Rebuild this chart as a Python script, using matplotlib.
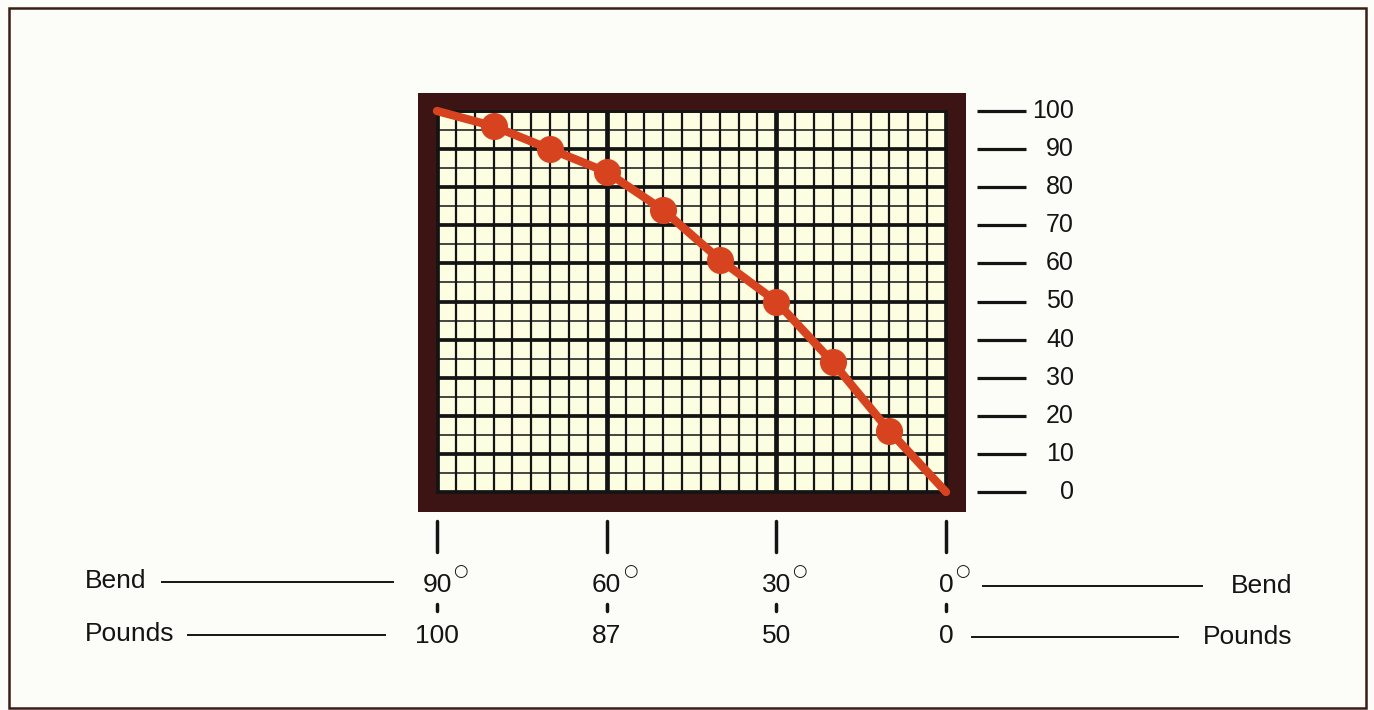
import matplotlib
matplotlib.use('Agg')
import matplotlib.pyplot as plt
import matplotlib.transforms as mtransforms
from matplotlib.patches import Rectangle
from matplotlib.lines import Line2D
import numpy as np

# ---------------- data ----------------
bend_deg = [90, 80, 70, 60, 50, 40, 30, 20, 10, 0]
pounds_pct = [100, 96, 90, 84, 74, 61, 50, 34, 16, 0]
marker_deg = [80, 70, 60, 50, 40, 30, 20, 10]
marker_pct = [96, 90, 84, 74, 61, 50, 34, 16]
y_ticks = [0, 10, 20, 30, 40, 50, 60, 70, 80, 90, 100]
bend_ticks = [90, 60, 30, 0]
bend_labels = ['90', '60', '30', '0']
pound_labels = ['100', '87', '50', '0']

plt.rcParams['font.family'] = ['Liberation Sans', 'DejaVu Sans']

W, H = 1374, 710
fig = plt.figure(figsize=(13.74, 7.1), dpi=100, facecolor='#fcfcf9')


def fx(px):
    return px / W


def fy(py):
    return 1 - py / H


BROWN = '#3d1414'
INK = '#141414'
RED = '#d8431f'
FS = 19

# outer border
fig.patches.append(Rectangle((fx(9), fy(708)), fx(1366) - fx(9), fy(8) - fy(708),
                             transform=fig.transFigure, fill=False,
                             ec='#3b1c16', lw=1.8, zorder=-2))
# dark frame around the grid
fig.patches.append(Rectangle((fx(418), fy(512)), fx(966) - fx(418), fy(93) - fy(512),
                             transform=fig.transFigure, fc=BROWN, ec='none',
                             zorder=-1))

ax = fig.add_axes([fx(437), fy(492), fx(946) - fx(437), fy(111) - fy(492)])
ax.set_facecolor('#fdfde2')
ax.set_xlim(90, 0)
ax.set_ylim(0, 100)

ax.set_xticks(bend_ticks)
ax.set_xticks(np.linspace(0, 90, 28), minor=True)
ax.set_yticks(y_ticks)
ax.set_yticks(np.arange(5, 100, 10), minor=True)
ax.tick_params(which='both', length=0, labelbottom=False, labelleft=False)
ax.set_axisbelow(True)
ax.xaxis.grid(True, which='major', color=INK, lw=3.4)
ax.xaxis.grid(True, which='minor', color=INK, lw=1.6)
ax.yaxis.grid(True, which='major', color=INK, lw=2.7)
ax.yaxis.grid(True, which='minor', color=INK, lw=1.1)
for s in ax.spines.values():
    s.set_color(INK)
    s.set_linewidth(2.0)

# curve
ax.plot(bend_deg, pounds_pct, color=RED, lw=6, solid_capstyle='round',
        solid_joinstyle='round', clip_on=False, zorder=3)
ax.plot(marker_deg, marker_pct, 'o', ms=18.5, color=RED, mec=RED, zorder=4)

# right side scale
trans_r = mtransforms.blended_transform_factory(fig.transFigure, ax.transData)
for v in y_ticks:
    ax.plot([fx(977), fx(1026)], [v, v], transform=trans_r, color=INK, lw=2.3,
            clip_on=False, solid_capstyle='butt')
    ax.text(fx(1074), v, str(v), transform=trans_r, ha='right', va='center',
            fontsize=18, color=INK)

# bottom scale
trans_b = mtransforms.blended_transform_factory(ax.transData, fig.transFigure)
for d, bl, pl in zip(bend_ticks, bend_labels, pound_labels):
    ax.plot([d, d], [fy(521), fy(552)], transform=trans_b, color=INK, lw=2.5,
            clip_on=False, solid_capstyle='round')
    ax.plot([d, d], [fy(604), fy(611)], transform=trans_b, color=INK, lw=2.5,
            clip_on=False, solid_capstyle='round')
    t = ax.text(d, fy(585), bl, transform=trans_b, ha='center', va='center',
                fontsize=FS, color=INK)
    ax.annotate('\u25CB', xy=(1.0, 1.0), xycoords=t, xytext=(1.0, 8),
                textcoords='offset points', ha='left', va='top', fontsize=12,
                family='DejaVu Sans', color=INK)
    ax.text(d, fy(636), pl, transform=trans_b, ha='center', va='center',
            fontsize=FS, color=INK)

# side labels and leader lines
fig.text(fx(85), fy(581), 'Bend', ha='left', va='center', fontsize=FS, color=INK)
fig.add_artist(Line2D([fx(162), fx(393)], [fy(582), fy(582)], color=INK, lw=1.4))
fig.text(fx(85), fy(634), 'Pounds', ha='left', va='center', fontsize=FS, color=INK)
fig.add_artist(Line2D([fx(188), fx(385)], [fy(635), fy(635)], color=INK, lw=1.4))

fig.text(fx(1292), fy(586), 'Bend', ha='right', va='center', fontsize=FS, color=INK)
fig.add_artist(Line2D([fx(983), fx(1202)], [fy(586), fy(586)], color=INK, lw=1.4))
fig.text(fx(1292), fy(637), 'Pounds', ha='right', va='center', fontsize=FS, color=INK)
fig.add_artist(Line2D([fx(972), fx(1178)], [fy(637), fy(637)], color=INK, lw=1.4))

fig.savefig('out.png', dpi=100, facecolor=fig.get_facecolor())
